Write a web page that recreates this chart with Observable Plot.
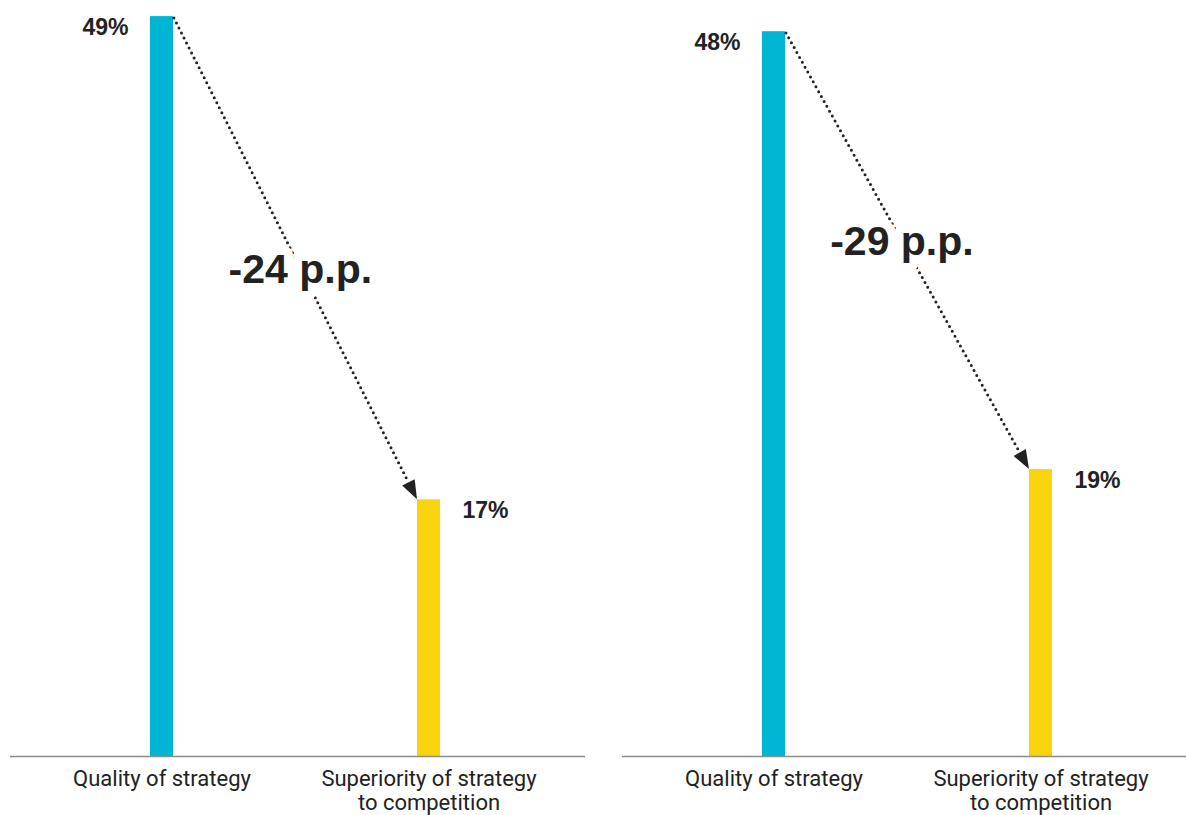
<!DOCTYPE html>
<html><head><meta charset="utf-8">
<script src="https://cdn.jsdelivr.net/npm/d3@7"></script>
<script src="https://cdn.jsdelivr.net/npm/@observablehq/plot@0.6"></script>
<style>
html,body{margin:0;padding:0;background:#fff;overflow:hidden;width:1186px;height:815px;}
#wrap{display:flex;width:1224px;}
#wrap svg{flex:none;}
</style></head><body><div id="wrap"></div>
<script>
// ---- data ----
const categories = ["Quality of strategy", "Superiority of strategy\nto competition"];
const leftValues = [49, 17];
const rightValues = [48, 19];
const changeLabels = ["-24 p.p.", "-29 p.p."];
const changeLabelLevel = [32.3, 34.1]; // value level (%) at which the change label sits on the arrow
const barColors = ["#00b5d4", "#f9d40c"];
const labelSide = ["left", "right"];

const ink = "#222";

function arrowMark(values, label, level) {
  return (index, scales) => {
    const x = scales.x, y = scales.y;
    const bw = x.bandwidth ? x.bandwidth() : 0;
    const x1 = x(categories[0]) + bw, y1 = y(values[0]);
    const x2 = x(categories[1]), y2 = y(values[1]);
    const ang = Math.atan2(y2 - y1, x2 - x1);
    const L = 19, W = 7;
    const c = Math.cos(ang), s = Math.sin(ang);
    const bx = x2 - L * c, by = y2 - L * s;
    const g = d3.create("svg:g");
    g.append("line")
      .attr("x1", x1 + 2 * c).attr("y1", y1 + 2 * s).attr("x2", bx).attr("y2", by)
      .attr("stroke", ink).attr("stroke-width", 3)
      .attr("stroke-linecap", "round").attr("stroke-dasharray", "0,5.6");
    g.append("polygon")
      .attr("points", [[x2, y2], [bx - W * s, by + W * c], [bx + W * s, by - W * c]].map(p => p.join(",")).join(" "))
      .attr("fill", ink);
    const ty = y(level);
    const t = (ty - y1) / (y2 - y1);
    const tx = x1 + t * (x2 - x1);
    g.append("text")
      .attr("x", tx).attr("y", ty).attr("dy", "0.35em")
      .attr("text-anchor", "middle")
      .attr("font-family", "'Liberation Sans', Arial, sans-serif")
      .attr("font-weight", "bold").attr("font-size", 41)
      .attr("fill", ink).attr("stroke", "#fff").attr("stroke-width", 18)
      .attr("stroke-linejoin", "round").attr("paint-order", "stroke")
      .text(label);
    return g.node();
  };
}

function panel(values, label, level) {
  const rows = categories.map((cat, i) => ({cat, value: values[i], color: barColors[i], side: labelSide[i]}));
  return Plot.plot({
    width: 612,
    height: 815,
    marginLeft: 10,
    marginRight: 27,
    marginTop: 1,
    marginBottom: 59,
    style: {fontFamily: "Roboto, sans-serif", fontSize: "22px", color: ink, background: "#fff"},
    x: {type: "band", domain: categories, paddingInner: 0.9142, paddingOuter: 0.53, align: 0.49, axis: null, label: null},
    y: {domain: [0, 50], axis: null},
    marks: [
      Plot.barY(rows, {x: "cat", y: "value", fill: "color"}),
      Plot.ruleY([0], {stroke: "#8c8c8c", strokeWidth: 1.6}),
      Plot.axisX({tickSize: 0, tickPadding: 12, lineHeight: 1.1, fontSize: 22, fill: ink, label: null}),
      Plot.text(rows.filter(d => d.side === "left"), {
        x: "cat", y: "value", text: d => d.value + "%", textAnchor: "end", dx: -33.5,
        lineAnchor: "top", dy: 2, fontSize: 23, fontWeight: "bold",
        fontFamily: "'Liberation Sans', Arial, sans-serif", fill: ink
      }),
      Plot.text(rows.filter(d => d.side === "right"), {
        x: "cat", y: "value", text: d => d.value + "%", textAnchor: "start", dx: 33.5,
        lineAnchor: "top", dy: 2, fontSize: 23, fontWeight: "bold",
        fontFamily: "'Liberation Sans', Arial, sans-serif", fill: ink
      }),
      arrowMark(values, label, level)
    ]
  });
}

const wrap = document.getElementById("wrap");
wrap.appendChild(panel(leftValues, changeLabels[0], changeLabelLevel[0]));
wrap.appendChild(panel(rightValues, changeLabels[1], changeLabelLevel[1]));
</script>
</body></html>
